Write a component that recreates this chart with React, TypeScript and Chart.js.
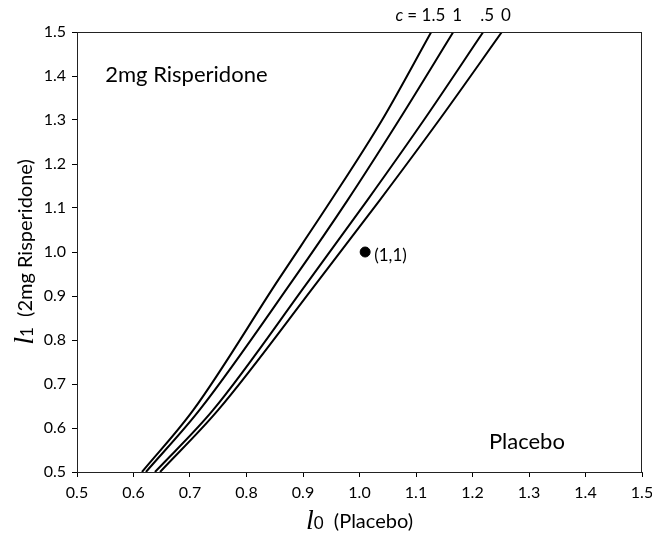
import React, { useEffect, useRef } from "react";
import { Chart, registerables } from "chart.js";

Chart.register(...registerables);

// Curve data (l0, l1) for each c value
const c15X = [0.615, 0.706, 0.856, 0.950, 1.040, 1.127];
const c15Y = [0.5, 0.641, 0.936, 1.118, 1.300, 1.5];
const c1X = [0.622, 0.717, 0.882, 0.979, 1.070, 1.166];
const c1Y = [0.5, 0.641, 0.936, 1.118, 1.300, 1.5];
const c05X = [0.638, 0.741, 0.911, 1.014, 1.114, 1.219];
const c05Y = [0.5, 0.641, 0.936, 1.118, 1.300, 1.5];
const c0X = [0.647, 0.750, 0.928, 1.036, 1.141, 1.252];
const c0Y = [0.5, 0.641, 0.936, 1.118, 1.300, 1.5];
const pointX = [1.01];
const pointY = [1.0];
const cLabels = ["c", "1.5", "1", ".5", "0"];
const axisMin = 0.5;
const axisMax = 1.5;
const axisStep = 0.1;

const FONT = "Lato, 'Noto Sans', sans-serif";

const toPts = (xs: number[], ys: number[]) => xs.map((x, i) => ({ x, y: ys[i] }));

const textPlugin = {
  id: "texts",
  afterDraw(chart: any) {
    const ctx = chart.ctx;
    const { left, top, right, bottom } = chart.chartArea;
    const xs = chart.scales.x;
    const ys = chart.scales.y;
    ctx.save();
    // frame
    ctx.strokeStyle = "#222";
    ctx.lineWidth = 1;
    ctx.strokeRect(left + 0.5, top + 0.5, right - left - 1, bottom - top);
    ctx.fillStyle = "#000";
    ctx.textBaseline = "middle";
    ctx.textAlign = "left";
    ctx.font = `22px ${FONT}`;
    ctx.fillText("2mg Risperidone", xs.getPixelForValue(0.55), ys.getPixelForValue(1.402));
    ctx.fillText("Placebo", xs.getPixelForValue(1.229), ys.getPixelForValue(0.568));
    ctx.font = `17px ${FONT}`;
    ctx.fillText("(1,1)", xs.getPixelForValue(1.026), ys.getPixelForValue(0.993));

    // c labels above top
    const ty = top - 16;
    ctx.font = `17px ${FONT}`;
    const topXs = [c15X[c15X.length - 1], c1X[c1X.length - 1], c05X[c05X.length - 1], c0X[c0X.length - 1]];
    const p15 = xs.getPixelForValue(topXs[0]);
    ctx.textAlign = "right";
    ctx.fillText("= " + cLabels[1], p15 + 14, ty);
    const eqW = ctx.measureText("= " + cLabels[1]).width;
    ctx.font = `italic 17px ${FONT}`;
    ctx.fillText(cLabels[0] + " ", p15 + 14 - eqW, ty);
    ctx.font = `17px ${FONT}`;
    ctx.textAlign = "center";
    for (let i = 2; i < cLabels.length; i++) {
      ctx.fillText(cLabels[i], xs.getPixelForValue(topXs[i - 1]) + 4, ty);
    }

    // axis titles
    const drawTitle = (sub: string, rest: string) => {
      ctx.font = "italic 28px 'Liberation Serif', serif";
      const w1 = ctx.measureText("l").width;
      ctx.font = `17px ${FONT}`;
      const w2 = ctx.measureText(sub).width;
      ctx.font = `20px ${FONT}`;
      const w3 = ctx.measureText(rest).width;
      const total = w1 + w2 + w3;
      let x = -total / 2;
      ctx.textAlign = "left";
      ctx.textBaseline = "alphabetic";
      ctx.font = "italic 28px 'Liberation Serif', serif";
      ctx.fillText("l", x, 9);
      x += w1;
      ctx.font = `17px ${FONT}`;
      ctx.fillText(sub, x, 9);
      x += w2;
      ctx.font = `20px ${FONT}`;
      ctx.fillText(rest, x, 8);
    };
    ctx.save();
    ctx.translate((left + right) / 2, 520);
    drawTitle("0", "  (Placebo)");
    ctx.restore();
    ctx.save();
    ctx.translate(24, (top + bottom) / 2);
    ctx.rotate(-Math.PI / 2);
    drawTitle("1", "  (2mg Risperidone)");
    ctx.restore();
    ctx.restore();
  },
};

export default function App() {
  const ref = useRef<HTMLCanvasElement>(null);
  useEffect(() => {
    document.body.style.margin = "0";
    if (!ref.current) return;
    const lineDs = (xs: number[], ys: number[]) => ({
      data: toPts(xs, ys),
      showLine: true,
      borderColor: "#000",
      borderWidth: 2,
      pointRadius: 0,
      cubicInterpolationMode: "monotone",
      fill: false,
    });
    const tickCb = (v: any) => Number(v).toFixed(1);
    const chart = new Chart(ref.current, {
      type: "scatter",
      data: {
        datasets: [
          lineDs(c15X, c15Y) as any,
          lineDs(c1X, c1Y) as any,
          lineDs(c05X, c05Y) as any,
          lineDs(c0X, c0Y) as any,
          {
            data: toPts(pointX, pointY),
            pointRadius: 5,
            pointBackgroundColor: "#000",
            pointBorderColor: "#000",
            showLine: false,
          } as any,
        ],
      },
      options: {
        animation: false,
        responsive: false,
        layout: { padding: { top: 32, right: 10, left: 0, bottom: 0 } },
        plugins: { legend: { display: false }, tooltip: { enabled: false } },
        scales: {
          x: {
            type: "linear",
            min: axisMin,
            max: axisMax,
            afterFit: (s: any) => { s.height = 74; s.paddingRight = 0; s.paddingLeft = 0; },
            ticks: { stepSize: axisStep, callback: tickCb, color: "#000", font: { family: FONT, size: 16 }, padding: 6, maxRotation: 0, autoSkip: false },
            grid: { drawOnChartArea: false, drawTicks: true, tickLength: 5, color: "#000" },
            border: { display: true, color: "#222", width: 1 },
          },
          y: {
            type: "linear",
            min: axisMin,
            max: axisMax,
            afterFit: (s: any) => { s.width = 77; s.paddingTop = 0; s.paddingBottom = 0; },
            ticks: { stepSize: axisStep, callback: tickCb, color: "#000", font: { family: FONT, size: 16 }, padding: 6, autoSkip: false },
            grid: { drawOnChartArea: false, drawTicks: true, tickLength: 5, color: "#000" },
            border: { display: true, color: "#222", width: 1 },
          },
        },
      },
      plugins: [textPlugin],
    });
    return () => chart.destroy();
  }, []);
  return (
    <div style={{ width: 652, height: 546 }}>
      <canvas ref={ref} width={652} height={546} />
    </div>
  );
}
